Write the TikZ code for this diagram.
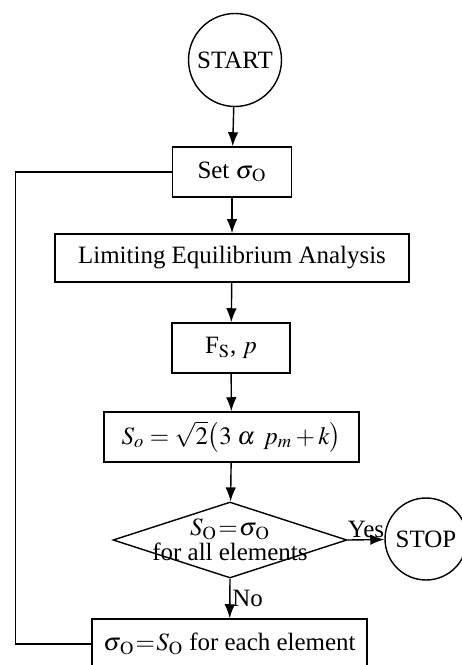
\documentclass[tikz,border=0pt]{standalone}
\usepackage{mathptmx}
\usepackage{fontspec}
\setmainfont{Liberation Serif}
\usetikzlibrary{shapes.geometric,arrows.meta}

\newcommand{\sigO}{\sigma_{\mkern1.5mu\mathrm{O}}}

\begin{document}
\begin{tikzpicture}[x=0.02cm, y=-0.02cm, line width=0.8pt,
    >={Latex[length=8pt,width=6pt]},
    font=\fontsize{14.2pt}{17pt}\selectfont,
    procbox/.style={draw, rectangle, inner sep=0pt, minimum height=1cm},
    termcircle/.style={draw, circle, inner sep=0pt}]
    % Fix the frame of the picture
    \useasboundingbox (0,0) rectangle (461,665);

    % Start of the procedure
    \node[termcircle, minimum size=1.86cm] (start) at (235,60) {START};

    % Initial value of the stress
    \node[procbox, minimum width=2.38cm] (set) at (232,172) {Set $\sigO$};

    % Analysis and its results
    \node[procbox, minimum width=7.08cm, minimum height=0.96cm] (lea) at (232,258) {Limiting Equilibrium Analysis};
    \node[procbox, minimum width=2.36cm] (fsp) at (231,348) {F$_{\mathrm{S}}$, $p$};
    \node[procbox, minimum width=5.1cm] (sform) at (231.5,437) {$S_o = \sqrt{2}\bigl(3\;\alpha\;\, p_m + k\bigr)$};

    % Convergence check (the text runs over the edges, so it sits on top)
    \node[draw, diamond, inner sep=0pt, minimum width=4.68cm, minimum height=1.52cm] (check) at (230,540) {};
    \node[align=center, inner sep=0pt] (checktext) at (check) {$S_{\mathrm{O}}\mkern1mu{=}\mkern1mu\sigO$\\[-3pt]for all elements};

    % End of the procedure
    \node[termcircle, minimum size=1.64cm] (stop) at (426,539) {STOP};

    % Update of the stress
    \node[procbox, minimum width=5.5cm] (update) at (229.5,644) {$\sigO\mkern1mu{=}\mkern1mu S_{\mathrm{O}}$ for each element};

    % Main flow
    \draw[->] (start) -- (set);
    \draw[->] (set) -- (lea);
    \draw[->] (lea) -- (fsp);
    \draw[->] (fsp) -- (sform);
    \draw[->] (sform) -- (check);
    \draw[->] (check.east) -- node[above, inner sep=1pt] {Yes} (stop);
    \draw[->] (check.south) -- node[right, inner sep=1pt] {No} (update);

    % Loop back to the start value
    \draw (update.west) -- ++(-76,0) |- (set.west);
\end{tikzpicture}
\end{document}
